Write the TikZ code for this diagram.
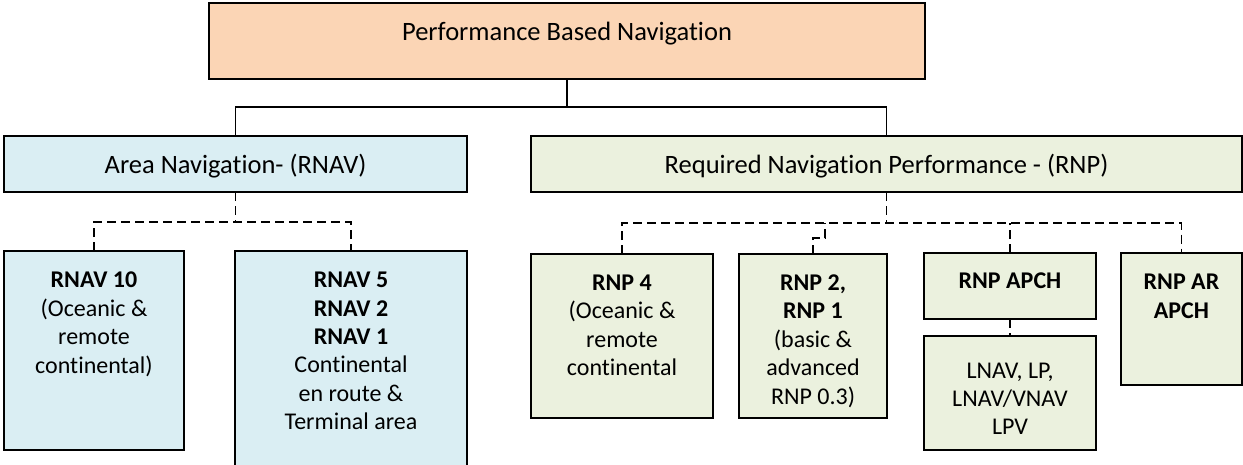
\documentclass[tikz,border=0pt]{standalone}
\usepackage{fontspec}
\setmainfont{Carlito}[Ligatures=NoCommon]
\usepackage{tikz}
\usetikzlibrary{
  positioning,
  calc,
  shadows
}
\definecolor{pbnPeach}{HTML}{FBD5B5}
\definecolor{pbnBlue}{HTML}{DAEEF3}
\definecolor{pbnGreen}{HTML}{EBF1DE}
\tikzset{
  pbnnode/.style={
    draw=black, line width=1.5pt, inner sep=0pt, outer sep=0pt, anchor=north west,
    drop shadow={shadow xshift=1pt, shadow yshift=-1pt, fill=black!35, opacity=1}
  },
  headbox/.style={pbnnode, fill=pbnPeach},
  rnavbox/.style={pbnnode, fill=pbnBlue},
  rnpbox/.style={pbnnode, fill=pbnGreen},
  bigtext/.style={
    font=\fontsize{26.5}{32}\selectfont, align=center, anchor=north,
    inner sep=0pt, execute at begin node=\strut
  },
  smalltext/.style={
    font=\fontsize{24}{28.4}\selectfont, align=center, anchor=north, inner sep=0pt
  },
  solidlink/.style={line width=1.3pt},
  dashlink/.style={line width=1.8pt, dash pattern=on 9pt off 5pt}
}

\begin{document}
\begin{tikzpicture}[x=1pt, y=1pt]
  \useasboundingbox (0,0) rectangle (1243,-464);
  \clip (0,0) rectangle (1243,-464);
  % boxes, placed by their top left corners
  \node[headbox, minimum width=716pt, minimum height=76pt] (pbn) at (209,-3) {};
  \node[rnavbox, minimum width=463pt, minimum height=56pt] (rnav) at (4,-136) {};
  \node[rnpbox, minimum width=711pt, minimum height=56pt] (rnp) at (531,-136) {};
  \node[rnavbox, minimum width=180pt, minimum height=199pt] (rnavten) at (4,-251) {};
  \node[rnavbox, minimum width=232pt, minimum height=225pt] (rnavfive) at (235,-251) {};
  \node[rnpbox, minimum width=182pt, minimum height=164pt] (rnpfour) at (531,-254) {};
  \node[rnpbox, minimum width=148pt, minimum height=164pt] (rnptwo) at (739,-254) {};
  \node[rnpbox, minimum width=172pt, minimum height=66pt] (apch) at (924,-253) {};
  \node[rnpbox, minimum width=172pt, minimum height=114pt] (lnav) at (924,-336) {};
  \node[rnpbox, minimum width=121pt, minimum height=132pt] (arapch) at (1121,-253) {};

  % texts, hung from the top of each box
  \node[bigtext] (pbn-t) at ([yshift=-15pt]pbn.north) {Performance Based Navigation};
  \node[bigtext] (rnav-t) at ([yshift=-15pt]rnav.north) {Area Navigation- (RNAV)};
  \node[bigtext] (rnp-t) at ([yshift=-15pt]rnp.north) {Required Navigation Performance - (RNP)};
  \node[smalltext] (rnavten-t) at ([yshift=-21pt]rnavten.north)
    {\textbf{RNAV 10}\\(Oceanic \&\\remote\\continental)};
  \node[smalltext] (rnavfive-t) at ([yshift=-21pt]rnavfive.north)
    {\textbf{RNAV 5}\\\textbf{RNAV 2}\\\textbf{RNAV 1}\\Continental\\en route \&\\Terminal area};
  \node[smalltext] (rnpfour-t) at ([yshift=-20.5pt]rnpfour.north)
    {\textbf{RNP 4}\\(Oceanic \&\\remote\\continental};
  \node[smalltext] (rnptwo-t) at ([yshift=-20.5pt]rnptwo.north)
    {\textbf{RNP 2,}\\\textbf{RNP 1}\\(basic \&\\advanced\\RNP 0.3)};
  \node[smalltext] (apch-t) at ([yshift=-20pt]apch.north) {\textbf{RNP APCH}};
  \node[smalltext] (lnav-t) at ([yshift=-26.5pt]lnav.north) {LNAV, LP,\\LNAV/VNAV\\LPV};
  \node[smalltext] (arapch-t) at ([yshift=-21pt]arapch.north) {\textbf{RNP AR}\\\textbf{APCH}};

  % solid tree from the top box
  \draw[solidlink] (pbn.south) -- ++(0,-28) coordinate (pbnbar);
  \draw[solidlink] (rnav.north) |- (pbnbar) -| (rnp.north);

  % dashed branches
  \draw[dashlink] (rnav.south) -- ++(0,-30) coordinate (rnavbar);
  \draw[dashlink] (rnavten.north) |- (rnavbar) -| (rnavfive.north);
  \draw[dashlink] (rnp.south) -- ++(0,-31) coordinate (rnpbar);
  \draw[dashlink] (rnpfour.north) |- (rnpbar) -| (arapch.north);
  \draw[dashlink] (apch.north) -- (apch.north |- rnpbar);
  \draw[dashlink] (rnptwo.north) -- ++(0,16) -| ($(rnptwo.north |- rnpbar)+(12,0)$);
  \draw[dashlink] (apch.south) -- (lnav.north);
\end{tikzpicture}
\end{document}
